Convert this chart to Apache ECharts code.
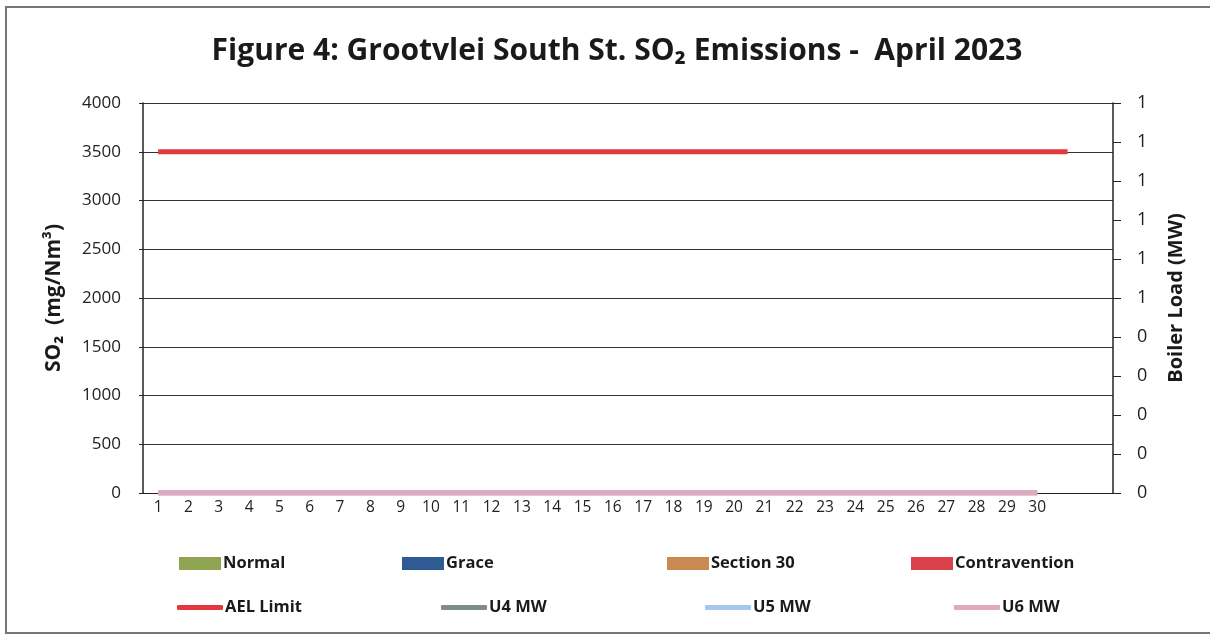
<!DOCTYPE html>
<html>
<head>
<meta charset="utf-8">
<script src="https://cdn.jsdelivr.net/npm/echarts@6/dist/echarts.min.js"></script>
<style>
html,body{margin:0;padding:0;background:#fff;}
#chart{width:1210px;height:635px;}
</style>
</head>
<body>
<div id="chart"></div>
<script>
// Data
var days = ['1','2','3','4','5','6','7','8','9','10','11','12','13','14','15','16','17','18','19','20','21','22','23','24','25','26','27','28','29','30','',''];
var normal = [];
var grace = [];
var section30 = [];
var contravention = [];
var aelLimit = [3500,3500,3500,3500,3500,3500,3500,3500,3500,3500,3500,3500,3500,3500,3500,3500,3500,3500,3500,3500,3500,3500,3500,3500,3500,3500,3500,3500,3500,3500,3500];
var u4MW = [0,0,0,0,0,0,0,0,0,0,0,0,0,0,0,0,0,0,0,0,0,0,0,0,0,0,0,0,0,0];
var u5MW = [0,0,0,0,0,0,0,0,0,0,0,0,0,0,0,0,0,0,0,0,0,0,0,0,0,0,0,0,0,0];
var u6MW = [0,0,0,0,0,0,0,0,0,0,0,0,0,0,0,0,0,0,0,0,0,0,0,0,0,0,0,0,0,0];

var FONT = '"Open Sans", "Noto Sans", sans-serif';
var chart = echarts.init(document.getElementById('chart'));

function leg(name, left, top, isLine) {
  return {
    data: [name], left: left, top: top, orient: 'horizontal',
    itemWidth: isLine ? 46 : 42, itemHeight: isLine ? 5 : 13,
    icon: isLine ? 'roundRect' : 'rect', itemGap: 0,
    textStyle: { fontFamily: FONT, fontWeight: 'bold', fontSize: 16.5, color: '#1a1a1a', padding: [0,0,0,-3] },
    selectedMode: false
  };
}

chart.setOption({
  backgroundColor: '#fff',
  animation: false,
  graphic: [{
    type: 'rect', shape: { x: 6, y: 7, width: 1220, height: 626 },
    style: { fill: 'none', stroke: '#6f7a76', lineWidth: 2 }, silent: true
  }],
  title: {
    text: 'Figure 4: Grootvlei South St. SO₂ Emissions -  April 2023',
    left: 612, top: 31, textAlign: 'center',
    textStyle: { fontFamily: FONT, fontWeight: 'bold', fontSize: 30, color: '#1a1a1a' }
  },
  grid: { left: 143, right: 97, top: 103, bottom: 142 },
  legend: [
    leg('Normal', 174, 550, false),
    leg('Grace', 397, 550, false),
    leg('Section 30', 662, 550, false),
    leg('Contravention', 906, 550, false),
    leg('AEL Limit', 172, 594, true),
    leg('U4 MW', 436, 594, true),
    leg('U5 MW', 700, 594, true),
    leg('U6 MW', 949, 594, true)
  ],
  xAxis: {
    type: 'category', data: days, boundaryGap: true,
    axisLine: { lineStyle: { color: '#222', width: 1 } },
    axisTick: { alignWithLabel: true, length: 4, lineStyle: { color: '#222' } },
    axisLabel: { fontFamily: FONT, fontSize: 15.5, color: '#222', margin: 7, interval: 0 },
    splitLine: { show: false }
  },
  yAxis: [{
    type: 'value', min: 0, max: 4000, interval: 500, position: 'left',
    name: 'SO₂  (mg/Nm³)', nameLocation: 'middle', nameGap: 78, nameRotate: 90,
    nameTextStyle: { fontFamily: FONT, fontWeight: 'bold', fontSize: 21, color: '#1a1a1a' },
    axisLine: { show: true, lineStyle: { color: '#222', width: 1.5 } },
    axisTick: { show: true, length: 4, lineStyle: { color: '#222' } },
    axisLabel: { fontFamily: FONT, fontSize: 17, color: '#222', margin: 22,
      formatter: function (v) { return String(v); } },
    splitLine: { show: true, lineStyle: { color: '#333', width: 1.2 } }
  }, {
    type: 'value', min: 0, max: 1, interval: 0.1, position: 'right',
    name: 'Boiler Load (MW)', nameLocation: 'middle', nameGap: 53, nameRotate: 90,
    nameTextStyle: { fontFamily: FONT, fontWeight: 'bold', fontSize: 20, color: '#1a1a1a' },
    axisLine: { show: true, lineStyle: { color: '#222', width: 1.5 } },
    axisTick: { show: true, length: 8, inside: false, lineStyle: { color: '#222' } },
    axisLabel: { fontFamily: FONT, fontSize: 18, color: '#222', margin: 24,
      formatter: function (v) { return String(Math.round(v)); } },
    splitLine: { show: false }
  }],
  series: [
    { name: 'Normal', type: 'bar', stack: 's', data: normal, itemStyle: { color: '#8fa552' } },
    { name: 'Grace', type: 'bar', stack: 's', data: grace, itemStyle: { color: '#2f5a94' } },
    { name: 'Section 30', type: 'bar', stack: 's', data: section30, itemStyle: { color: '#c98a52' } },
    { name: 'Contravention', type: 'bar', stack: 's', data: contravention, itemStyle: { color: '#d9414b' } },
    { name: 'AEL Limit', type: 'line', data: aelLimit, symbol: 'none', z: 5,
      lineStyle: { color: '#e0393e', width: 5 }, itemStyle: { color: '#e0393e' } },
    { name: 'U4 MW', type: 'line', yAxisIndex: 1, data: u4MW, symbol: 'none',
      lineStyle: { color: '#7d8c85', width: 5 }, itemStyle: { color: '#7d8c85' } },
    { name: 'U5 MW', type: 'line', yAxisIndex: 1, data: u5MW, symbol: 'none',
      lineStyle: { color: '#a7c7ec', width: 5 }, itemStyle: { color: '#a7c7ec' } },
    { name: 'U6 MW', type: 'line', yAxisIndex: 1, data: u6MW, symbol: 'none', z: 6,
      lineStyle: { color: '#e0a7bd', width: 5 }, itemStyle: { color: '#e0a7bd' } }
  ]
});
</script>
</body>
</html>
